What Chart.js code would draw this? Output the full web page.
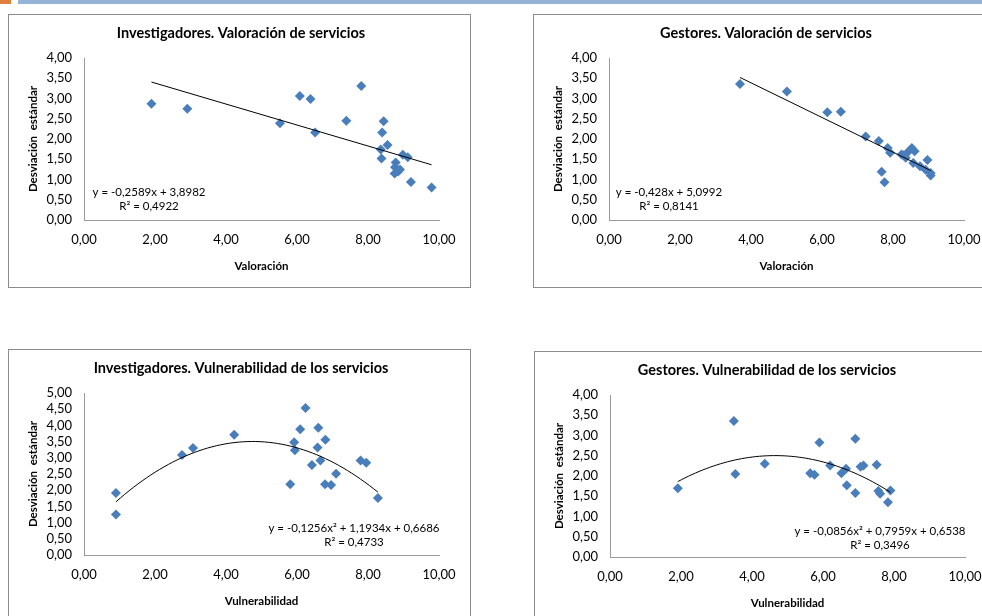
<!DOCTYPE html>
<html><head><meta charset="utf-8">
<script src="https://cdn.jsdelivr.net/npm/chart.js@4.4.1/dist/chart.umd.min.js"></script>
<style>
html,body{margin:0;padding:0;width:982px;height:616px;overflow:hidden;background:#fff;}
.bar-o{position:absolute;left:0;top:0;width:11px;height:4px;background:#E07E3C;}
.bar-b{position:absolute;left:18px;top:0;width:964px;height:4px;background:#95B3D7;}
.box{position:absolute;border:1px solid #8C8C8C;width:461px;height:272px;background:#fff;}
.box canvas{display:block;}
</style></head><body>
<div class="bar-o"></div><div class="bar-b"></div>
<div class="box" style="left:8px;top:14px"><canvas id="c1" width="461" height="272"></canvas></div>
<div class="box" style="left:533px;top:14px"><canvas id="c2" width="461" height="272"></canvas></div>
<div class="box" style="left:8px;top:349px"><canvas id="c3" width="461" height="272"></canvas></div>
<div class="box" style="left:534px;top:351px"><canvas id="c4" width="461" height="272"></canvas></div>
<script>
// ---- Data ----
const invValX = [1.90, 2.91, 5.52, 6.08, 6.38, 6.51, 7.39, 7.81, 8.44, 8.40, 8.38, 8.55, 8.36, 8.98, 9.12, 8.78, 8.76, 8.90, 8.75, 8.85, 9.21, 9.79];
const invValY = [2.87, 2.75, 2.39, 3.06, 2.99, 2.16, 2.45, 3.31, 2.44, 2.16, 1.52, 1.85, 1.74, 1.61, 1.55, 1.42, 1.30, 1.25, 1.15, 1.20, 0.94, 0.80];
const invValTrend = [-0.2589, 3.8982];

const gesValX = [3.69, 5.01, 6.15, 6.53, 7.23, 7.60, 7.85, 7.92, 7.68, 7.76, 8.24, 8.36, 8.40, 8.53, 8.61, 8.57, 8.76, 8.97, 8.92, 9.06, 9.06, 8.30];
const gesValY = [3.36, 3.17, 2.66, 2.67, 2.06, 1.95, 1.78, 1.66, 1.19, 0.93, 1.62, 1.54, 1.66, 1.78, 1.70, 1.41, 1.33, 1.48, 1.24, 1.16, 1.10, 1.60];
const gesValTrend = [-0.428, 5.0992];

const invVulX = [0.90, 0.90, 2.76, 3.07, 4.23, 5.81, 5.92, 5.94, 6.09, 6.24, 6.42, 6.58, 6.60, 6.66, 6.80, 6.79, 6.96, 7.10, 7.79, 7.95, 8.28];
const invVulY = [1.91, 1.25, 3.09, 3.30, 3.71, 2.18, 3.48, 3.23, 3.88, 4.54, 2.78, 3.32, 3.93, 2.92, 3.56, 2.18, 2.16, 2.51, 2.92, 2.85, 1.76];
const invVulTrend = [-0.1256, 1.1934, 0.6686];

const gesVulX = [1.91, 3.49, 3.53, 4.36, 5.64, 5.76, 5.90, 6.20, 6.52, 6.65, 6.67, 6.91, 6.91, 7.06, 7.14, 7.51, 7.56, 7.61, 7.83, 7.90];
const gesVulY = [1.70, 3.36, 2.05, 2.30, 2.07, 2.03, 2.83, 2.26, 2.07, 2.18, 1.77, 2.92, 1.58, 2.23, 2.26, 2.28, 1.63, 1.56, 1.35, 1.64];
const gesVulTrend = [-0.0856, 0.7959, 0.6538];

const xTicks = [0, 2, 4, 6, 8, 10];

// ---- Rendering ----
const F = 'Lato, "Liberation Sans", sans-serif';
const fmt = v => Number(v).toFixed(2).replace('.', ',');

const textPlugin = {
  id: 'chartText',
  afterDatasetsDraw(chart, args, opts) {
    const ctx = chart.ctx;
    ctx.save();
    ctx.fillStyle = '#000';
    ctx.textAlign = 'center';
    ctx.textBaseline = 'middle';
    ctx.font = 'bold 14.5px ' + F;
    ctx.fillText(opts.title, opts.tx, opts.ty);
    ctx.font = '11.5px ' + F;
    opts.lines.forEach((t, i) => ctx.fillText(t, opts.x, opts.y + i * opts.gap));
    ctx.restore();
  }
};

function build(id, c) {
  const pts = c.x.map((x, i) => ({x: x, y: c.y[i]}));
  const xmin = Math.min(...c.x), xmax = Math.max(...c.x);
  const trend = [];
  const steps = c.coef.length > 2 ? 60 : 1;
  for (let k = 0; k <= steps; k++) {
    const x = xmin + (xmax - xmin) * k / steps;
    let y = 0;
    for (const a of c.coef) y = y * x + a;
    trend.push({x: x, y: y});
  }
  new Chart(document.getElementById(id), {
    type: 'scatter',
    data: {datasets: [
      {data: trend, showLine: true, borderColor: '#000', borderWidth: 1, pointRadius: 0, fill: false, order: 0},
      {data: pts, pointStyle: 'rectRot', pointRadius: 5, pointHoverRadius: 5,
       backgroundColor: '#4A7EBB', borderColor: '#4A7EBB', borderWidth: 0, order: 1}
    ]},
    options: {
      responsive: false, animation: false, events: [],
      layout: {padding: {left: 0, right: 31, top: 43, bottom: 14}},
      plugins: {
        legend: {display: false}, tooltip: {enabled: false}, title: {display: false},
        chartText: {title: c.title, tx: 232, ty: 18, lines: c.eq, x: c.eqX, y: c.eqY, gap: 14}
      },
      scales: {
        x: {type: 'linear', min: 0, max: 10,
            afterBuildTicks: s => { s.ticks = xTicks.map(v => ({value: v})); },
            ticks: {callback: fmt, color: '#000', font: {family: F, size: 13}, padding: 12.5, maxRotation: 0, autoSkip: false},
            grid: {display: false, drawTicks: false},
            border: {display: true, color: '#9A9A9A', width: 1},
            title: {display: true, text: c.xt, color: '#000', font: {family: F, size: 11.5, weight: 'bold'}, padding: {top: 0, bottom: 0}},
            afterFit: s => { s.height = 53; }},
        y: {type: 'linear', min: 0, max: c.ymax,
            ticks: {stepSize: 0.5, callback: fmt, color: '#000', font: {family: F, size: 13}, padding: 12, autoSkip: false},
            grid: {display: false, drawTicks: false},
            border: {display: true, color: '#9A9A9A', width: 1},
            title: {display: true, text: 'Desviación  estándar', color: '#000', font: {family: F, size: 11.5, weight: 'bold'}, padding: {top: 17, bottom: 0}},
            afterFit: s => { s.width = 75; }}
      }
    },
    plugins: [textPlugin]
  });
}

build('c1', {title: 'Investigadores. Valoración de servicios', xt: 'Valoración', ymax: 4,
  x: invValX, y: invValY, coef: invValTrend,
  eq: ['y = -0,2589x + 3,8982', 'R² = 0,4922'], eqX: 140, eqY: 177});
build('c2', {title: 'Gestores. Valoración de servicios', xt: 'Valoración', ymax: 4,
  x: gesValX, y: gesValY, coef: gesValTrend,
  eq: ['y = -0,428x + 5,0992', 'R² = 0,8141'], eqX: 135, eqY: 177});
build('c3', {title: 'Investigadores. Vulnerabilidad de los servicios', xt: 'Vulnerabilidad', ymax: 5,
  x: invVulX, y: invVulY, coef: invVulTrend,
  eq: ['y = -0,1256x² + 1,1934x + 0,6686', 'R² = 0,4733'], eqX: 345, eqY: 178});
build('c4', {title: 'Gestores. Vulnerabilidad de los servicios', xt: 'Vulnerabilidad', ymax: 4,
  x: gesVulX, y: gesVulY, coef: gesVulTrend,
  eq: ['y = -0,0856x² + 0,7959x + 0,6538', 'R² = 0,3496'], eqX: 345, eqY: 179});
</script>
</body></html>
